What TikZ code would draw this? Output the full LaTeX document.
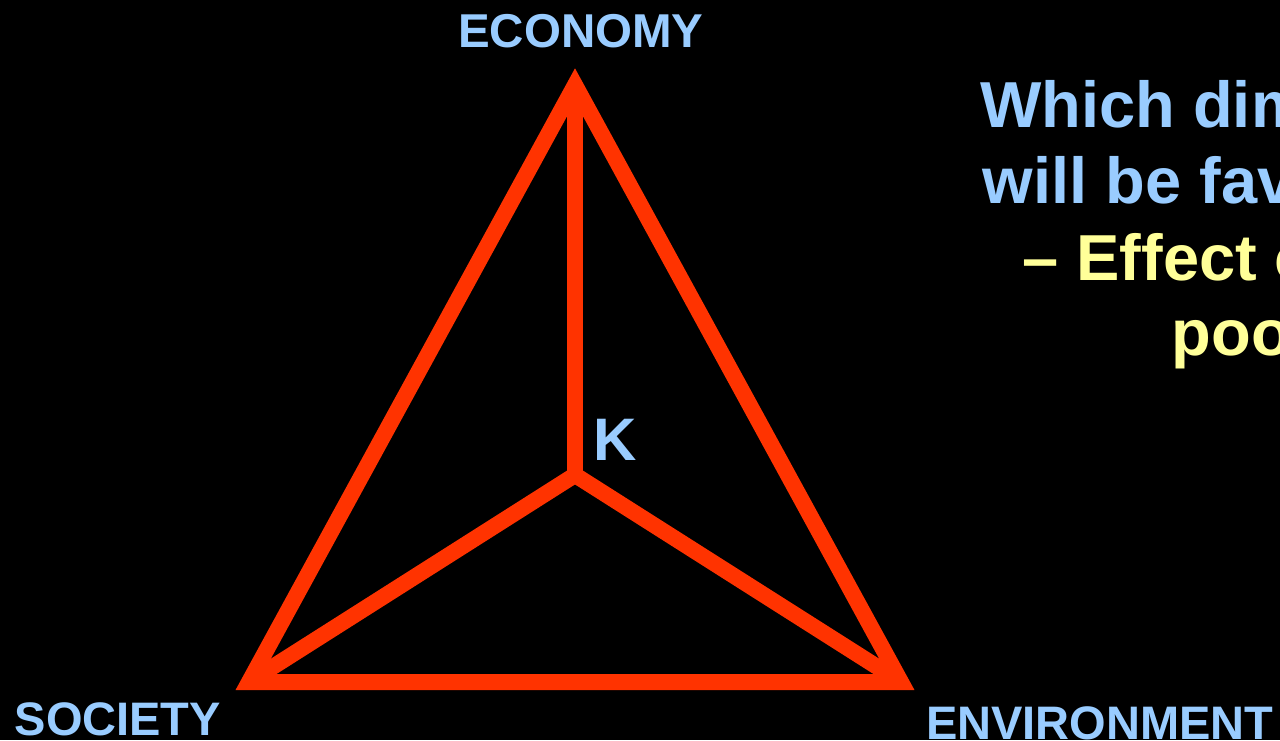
\documentclass[tikz,border=0pt]{standalone}
\usepackage{fontspec}
\setmainfont{Liberation Sans}
\definecolor{tri}{HTML}{FF3300}
\definecolor{lblue}{HTML}{99CCFF}
\definecolor{lyell}{HTML}{FFFF99}
\begin{document}
\begin{tikzpicture}[x=1pt,y=-1pt,
  edge/.style={draw=tri,line width=16pt,line join=miter,miter limit=10},
  corner/.style={font=\bfseries\fontsize{47}{56}\selectfont,text=lblue,anchor=base west,inner sep=0pt},
  qblue/.style={font=\bfseries\fontsize{65}{75}\selectfont,text=lblue,anchor=base west,inner sep=0pt},
  qyell/.style={font=\bfseries\fontsize{65}{75}\selectfont,text=lyell,anchor=base west,inner sep=0pt}]
\fill[black] (0,0) rectangle (1280,740);
\useasboundingbox (0,0) rectangle (1280,740);
\clip (0,0) rectangle (1280,740);
% vertices
\coordinate (top) at (575,85);
\coordinate (bl) at (249,682);
\coordinate (br) at (901,682);
\coordinate (c) at (575,475);
% inner lines
\draw[edge] (top) -- (c);
\draw[edge] (c) -- (bl);
\draw[edge] (c) -- (br);
% outer triangle
\draw[edge] (top) -- (br) -- (bl) -- cycle;
% labels
\node[corner,font=\bfseries\fontsize{47.5}{56}\selectfont] (eco) at (458,47) {ECONOMY};
\node[corner] (soc) at (14.5,735) {SOCIETY};
\node[corner] (env) at (926,739) {ENVIRONMENT};
\node[font=\bfseries\fontsize{60}{70}\selectfont,text=lblue,anchor=base west,inner sep=0pt] (k) at (593,460) {K};
% question
\node[qblue] (q1) at (980,127) {Which dim};
\node[qblue] (q2) at (982.5,203) {will be fav};
\node[qyell] (q3) at (1022,280) {– Effect o};
\node[qyell] (q4) at (1171.5,355) {poo};
\end{tikzpicture}
\end{document}
